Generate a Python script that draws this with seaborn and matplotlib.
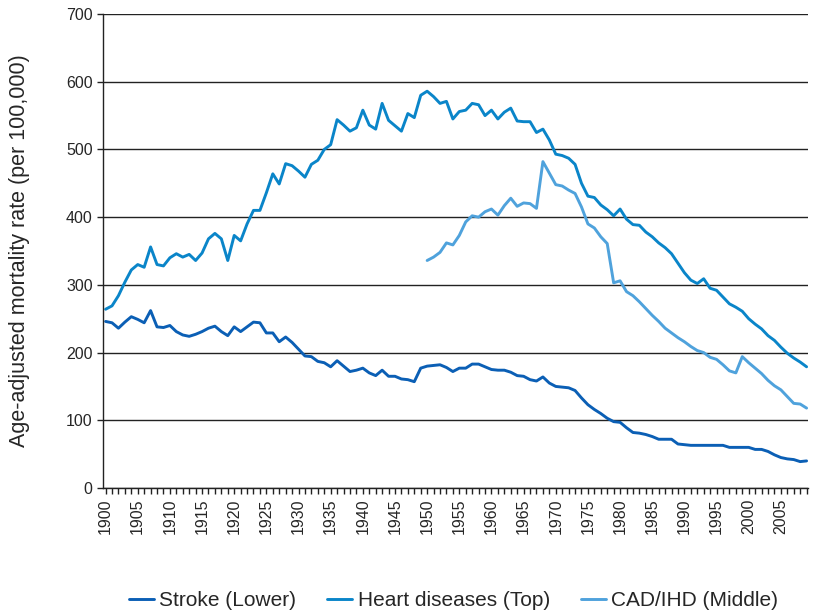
import numpy as np
import pandas as pd
import matplotlib
matplotlib.use("Agg")
import matplotlib.pyplot as plt
from matplotlib.ticker import MultipleLocator
import seaborn as sns

YEARS = list(range(1900, 2010))

STROKE = [
    246, 244, 236, 245, 253, 249, 244, 262, 238, 237,   # 1900s
    240, 231, 226, 224, 227, 231, 236, 239, 231, 225,   # 1910s
    238, 231, 238, 245, 244, 229, 229, 216, 223, 215,   # 1920s
    205, 195, 194, 187, 185, 179, 188, 180, 172, 174,   # 1930s
    177, 170, 166, 174, 165, 165, 161, 160, 157, 177,   # 1940s
    180, 181, 182, 178, 172, 177, 177, 183, 183, 179,   # 1950s
    175, 174, 174, 171, 166, 165, 160, 158, 164, 155,   # 1960s
    150, 149, 148, 144, 133, 123, 116, 110, 103, 98,    # 1970s
    97, 89, 82, 81, 79, 76, 72, 72, 72, 65,             # 1980s
    64, 63, 63, 63, 63, 63, 63, 60, 60, 60,             # 1990s
    60, 57, 57, 54, 49, 45, 43, 42, 39, 40,             # 2000s
]

HEART = [
    264, 269, 284, 304, 322, 330, 326, 356, 330, 328,
    340, 346, 341, 345, 336, 347, 368, 376, 368, 336,
    373, 365, 390, 410, 410, 436, 464, 449, 479, 476,
    468, 459, 478, 484, 500, 507, 544, 536, 527, 532,
    558, 536, 530, 568, 543, 535, 527, 553, 547, 580,
    586, 578, 568, 571, 545, 556, 558, 568, 566, 550,
    558, 545, 555, 561, 542, 541, 541, 525, 530, 514,
    493, 491, 487, 478, 450, 431, 429, 418, 411, 402,
    412, 397, 389, 388, 378, 371, 362, 355, 346, 332,
    318, 307, 302, 309, 295, 292, 282, 272, 267, 261,
    250, 242, 235, 225, 218, 208, 199, 192, 186, 179,
]

# CAD/IHD series only starts in 1950
CAD_YEARS = list(range(1950, 2010))
CAD = [
    336, 341, 348, 362, 359, 373, 393, 402, 400, 408,
    412, 403, 417, 428, 416, 421, 420, 413, 482, 465,
    448, 446, 440, 435, 415, 390, 384, 371, 361, 303,
    306, 290, 284, 275, 265, 255, 246, 236, 229, 222,
    216, 209, 203, 200, 193, 190, 182, 173, 170, 194,
    185, 177, 169, 159, 151, 145, 135, 125, 124, 118,
]

LABELS = ["Stroke (Lower)", "Heart diseases (Top)", "CAD/IHD (Middle)"]
COLORS = ["#0b5fb5", "#0a85c9", "#4fa2dc"]

df = pd.concat([
    pd.DataFrame({"year": YEARS, "rate": STROKE, "series": LABELS[0]}),
    pd.DataFrame({"year": YEARS, "rate": HEART, "series": LABELS[1]}),
    pd.DataFrame({"year": CAD_YEARS, "rate": CAD, "series": LABELS[2]}),
], ignore_index=True)

sns.set_style("white")
plt.rcParams["font.family"] = ["Liberation Sans", "DejaVu Sans"]

fig = plt.figure(figsize=(8.13, 6.15), dpi=100)
ax = fig.add_axes([0.1267, 0.2065, 0.867, 0.7707])

sns.lineplot(data=df, x="year", y="rate", hue="series", hue_order=LABELS,
             palette=COLORS, linewidth=2.1, ax=ax, legend=True)

ax.set_xlim(1899.6, 2009.2)
ax.set_ylim(0, 700)
ax.yaxis.set_major_locator(MultipleLocator(100))
ax.xaxis.set_minor_locator(MultipleLocator(1))
ticks = list(range(1900, 2010, 5))
ax.set_xticks(ticks)
ax.set_xticklabels([str(t) for t in ticks], rotation=90, fontsize=11.5)
ax.tick_params(axis="y", labelsize=11.5, direction="out", length=4, width=1,
               left=True, color="#222222")
ax.tick_params(axis="x", which="both", direction="out", length=4, width=1,
               bottom=True, color="#222222")
ax.grid(axis="y", color="#222222", linewidth=1.0)
ax.grid(axis="x", visible=False)
for s in ["top", "right"]:
    ax.spines[s].set_visible(False)
for s in ["left", "bottom"]:
    ax.spines[s].set_color("#222222")
    ax.spines[s].set_linewidth(1.0)
ax.set_axisbelow(True)

ax.set_xlabel("")
ax.set_ylabel("Age-adjusted mortality rate (per 100,000)", fontsize=15.5)
ax.yaxis.set_label_coords(-0.103, 0.5)

handles, labels = ax.get_legend_handles_labels()
ax.get_legend().remove()
fig.legend(handles, labels, loc="center", bbox_to_anchor=(0.558, 0.023), ncol=3,
           frameon=False, fontsize=15, handlelength=1.2, handletextpad=0.25,
           columnspacing=1.5)

fig.savefig("out.png", dpi=100)
